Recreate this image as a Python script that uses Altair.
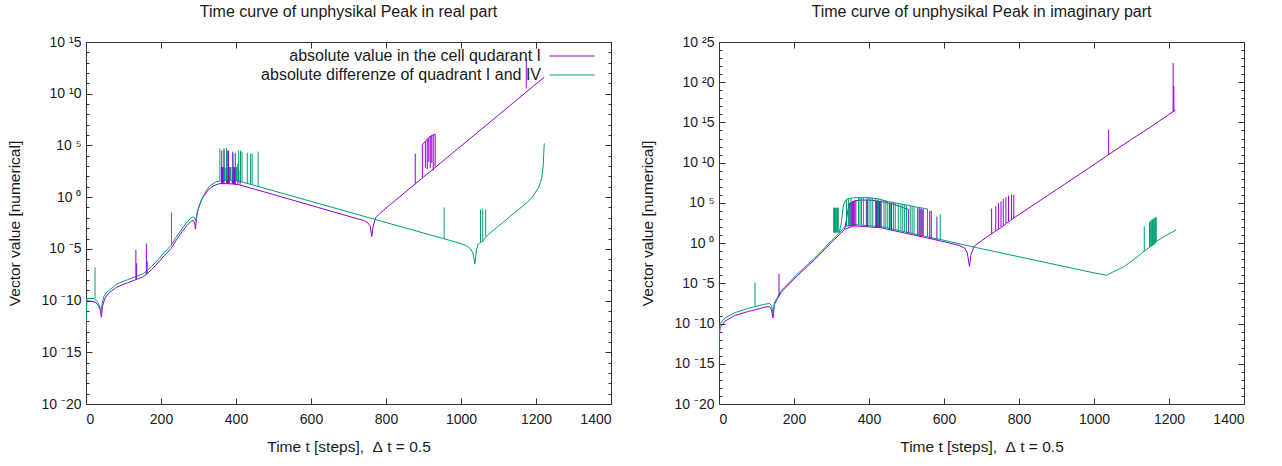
import altair as alt
import pandas as pd

S1 = "absolute value in the cell qudarant I"
S2 = "absolute differenze of quadrant I and IV"
PURPLE = "#9400d3"
GREEN = "#009e73"
FONT = "Liberation Sans"
TXT = "#1a1a1a"
AX = "#333333"

TITLE_L = "Time curve of unphysikal Peak in real part"
TITLE_R = "Time curve of unphysikal Peak in imaginary part"
X_TITLE = "Time t [steps],\u00a0 \u0394\u00a0t = 0.5"
Y_TITLE = "Vector value [numerical]"
X_TICKS = [0, 200, 400, 600, 800, 1000, 1200, 1400]

# ---------------- values are given as exponents: value = 10**e ----------------
# LEFT panel (real part)
LP_main_t = [0, 2, 10, 25, 33, 38, 41, 44, 50, 60, 82, 110, 131, 150, 160, 175, 186, 205, 226, 240,
             257, 270, 279, 286, 290, 292, 294, 297, 303, 310, 320, 328, 340, 355, 381, 408, 500, 600,
             700, 740, 752, 758, 762, 766, 772, 780, 800, 850, 900, 950, 1000, 1050, 1100, 1150, 1200, 1222]
LP_main_e = [-12.6, -10.0, -10.05, -10.15, -10.5, -10.9, -11.6, -10.6, -9.8, -9.3, -8.7, -8.3, -8.0, -7.75,
             -7.5, -7.0, -6.6, -5.8, -5.0, -4.2, -3.3, -2.7, -2.35, -2.25, -2.5, -3.1, -2.2, -1.4, -0.7,
             -0.1, 0.4, 0.77, 1.1, 1.3, 1.3, 1.2, 0.25, -0.8, -1.85, -2.25, -2.5, -2.8, -3.8, -2.8, -2.0,
             -1.7, -1.06, 0.44, 1.94, 3.44, 4.94, 6.44, 7.94, 9.44, 10.94, 11.6]
LP_up_t = [897, 905, 915, 925, 931]
LP_up_e = [5.1, 5.4, 5.8, 6.0, 6.1]
LP_sp_t = [133, 135, 161, 163, 361, 362, 363, 364, 365, 366, 368, 375, 376, 377, 378, 379, 380, 381, 382,
           390, 391, 392, 393, 394, 395, 396, 397, 398, 405, 411, 878, 897, 905, 910, 914, 918, 922, 926,
           931, 1174]
LP_sp_lo = [-7.95, -7.9, -7.5, -7.45, 1.3, 1.3, 1.3, 1.3, 1.3, 1.3, 1.3, 1.3, 1.3, 1.3, 1.3, 1.3, 1.3, 1.3,
            1.3, 1.28, 1.28, 1.28, 1.28, 1.28, 1.28, 1.28, 1.28, 1.28, 1.25, 1.2, 1.28, 1.9, 2.8, 2.7, 3.4,
            2.8, 3.3, 2.6, 2.95, 10.5]
LP_sp_hi = [-5.1, -6.4, -4.5, -6.2, 2.9, 4.5, 2.9, 2.9, 2.8, 2.9, 4.6, 4.4, 2.9, 2.9, 2.9, 2.8, 4.5, 2.9,
            2.9, 2.9, 4.4, 2.9, 2.9, 2.9, 2.9, 2.8, 2.9, 4.3, 3.2, 2.6, 4.2, 5.1, 5.4, 5.6, 5.75, 5.9,
            6.0, 6.0, 6.1, 13.4]

LG_main_t = [0, 2, 22, 30, 36, 40, 43, 48, 55, 65, 82, 110, 131, 150, 160, 175, 186, 205, 226, 240, 257,
             270, 279, 286, 290, 292, 295, 300, 310, 320, 330, 345, 360, 380, 408, 500, 600, 700, 800, 900,
             950, 1000, 1015, 1025, 1032, 1037, 1041, 1045, 1050, 1057, 1070, 1090, 1110, 1133, 1160, 1177,
             1190, 1199, 1208, 1215, 1219, 1222]
LG_main_e = [-12.7, -9.8, -9.8, -10.1, -10.5, -11.1, -10.3, -9.6, -9.2, -8.9, -8.4, -8.0, -7.7, -7.45, -7.2,
             -6.7, -6.3, -5.5, -4.7, -3.9, -3.0, -2.4, -2.05, -1.9, -2.0, -2.3, -1.8, -1.1, -0.1, 0.6, 1.1,
             1.45, 1.6, 1.65, 1.55, 0.61, -0.41, -1.43, -2.45, -3.47, -3.98, -4.49, -4.7, -5.0, -5.4, -6.45,
             -5.2, -4.6, -4.4, -4.3, -3.7, -3.1, -2.5, -1.8, -1.0, -0.5, 0.0, 0.5, 1.0, 1.8, 3.0, 5.2]
LG_sp_t = [24, 228, 357, 368, 369, 370, 371, 375, 377, 384, 385, 386, 392, 400, 401, 402, 407, 412, 416,
           430, 439, 443, 459, 955, 1052, 1058, 1066]
LG_sp_lo = [-9.8, -4.6, 1.6, 1.62, 1.63, 1.63, 1.63, 1.64, 1.64, 1.63, 1.63, 1.63, 1.62, 1.6, 1.6, 1.6,
            1.55, 1.5, 1.47, 1.33, 1.24, 1.2, 1.03, -4.03, -4.35, -4.3, -3.8]
LG_sp_hi = [-6.8, -1.5, 4.7, 4.75, 2.9, 2.9, 2.8, 4.75, 4.5, 2.9, 2.9, 2.9, 4.2, 2.9, 2.9, 2.8, 4.5, 4.5,
            4.4, 4.3, 4.2, 4.2, 4.4, -1.0, -1.2, -1.1, -1.2]

# RIGHT panel (imaginary part)
RP_rise_t = [0, 1, 3, 16, 42, 78, 104, 122, 135, 140, 144, 148, 155, 166, 210, 254, 300, 320, 335]
RP_rise_e = [-14.6, -11.5, -10.5, -9.7, -9.0, -8.5, -8.2, -7.95, -7.9, -8.3, -9.3, -7.6, -7.0, -6.1, -4.0,
             -2.1, 0.1, 1.0, 1.7]
RP_dome_t = [335, 340, 345, 350, 360, 380, 400, 420, 440, 460, 480, 495, 505]
RP_dome_e = [1.7, 3.0, 4.4, 5.0, 5.25, 5.35, 5.35, 5.25, 5.1, 4.9, 4.6, 4.35, 4.2]
RP_low_t = [335, 360, 433, 505, 550, 600, 640, 655, 662, 668, 672, 681, 700, 725, 751, 782, 850, 900, 950,
            1000, 1039, 1100, 1150, 1200, 1217]
RP_low_e = [1.7, 2.15, 1.9, 1.15, 0.7, 0.17, -0.28, -0.6, -1.2, -2.9, -1.4, -0.35, 0.3, 1.1, 1.9, 3.0, 5.1,
            6.65, 8.2, 9.76, 11.0, 12.9, 14.4, 16.0, 16.5]
RP_sp_t = [160, 347, 350, 353, 355, 357, 359, 362, 365, 393, 396, 418, 420, 422, 424, 426, 428, 430, 432,
           455, 460, 505, 530, 534, 538, 542, 562, 566, 581, 727, 738, 745, 752, 758, 765, 772, 780, 786,
           1039, 1211, 1213]
RP_sp_lo = [-6.6, 2.05, 2.1, 2.12, 2.15, 2.15, 2.15, 2.15, 2.14, 2.05, 2.04, 1.95, 1.95, 1.94, 1.94, 1.93,
            1.93, 1.92, 1.91, 1.65, 1.6, 1.15, 0.9, 0.86, 0.82, 0.78, 0.57, 0.53, 0.37, 1.15, 1.5, 1.75,
            2.0, 2.2, 2.45, 2.7, 2.95, 3.1, 11.0, 16.3, 16.35]
RP_sp_hi = [-3.8, 5.0, 5.05, 5.1, 5.15, 5.2, 5.2, 5.22, 5.25, 5.35, 5.35, 5.27, 5.25, 5.24, 5.23, 5.22,
            5.21, 5.2, 5.19, 4.95, 4.9, 4.2, 4.3, 4.3, 4.25, 4.2, 4.0, 4.0, 3.3, 4.3, 4.6, 5.0, 5.2, 5.5,
            5.7, 5.9, 6.0, 6.0, 14.1, 22.4, 19.5]

RG_rise_t = [0, 1, 3, 16, 42, 78, 104, 122, 135, 140, 144, 148, 155, 166, 210, 254, 300, 320]
RG_rise_e = [-14.0, -11.0, -10.0, -9.3, -8.65, -8.1, -7.8, -7.6, -7.5, -7.8, -8.7, -7.4, -6.8, -5.9, -3.8,
             -1.9, 0.3, 1.2]
RG_dome_t = [320, 326, 332, 340, 360, 400, 424, 452, 480, 510, 530, 550, 556]
RG_dome_e = [1.2, 2.5, 4.8, 5.45, 5.65, 5.65, 5.5, 5.15, 4.9, 4.65, 4.45, 4.3, 4.25]
RG_low_t = [320, 335, 360, 433, 505, 550, 600, 671, 700, 800, 900, 1000, 1033, 1050, 1081, 1110, 1134,
            1150, 1166, 1190, 1210, 1219]
RG_low_e = [1.2, 2.05, 2.3, 2.05, 1.3, 0.85, 0.35, -0.4, -0.7, -1.7, -2.7, -3.7, -4.0, -3.6, -2.9, -1.9,
            -1.0, -0.45, 0.2, 0.9, 1.4, 1.65]
RG_sp_t = [96, 306, 307, 308, 309, 310, 312, 314, 316, 318, 340, 345, 352, 372, 376, 380, 385, 395, 400,
           405, 410, 418, 425, 432, 440, 445, 450, 458, 465, 470, 478, 485, 490, 495, 500, 510, 515, 520,
           530, 535, 540, 545, 556, 590, 1134, 1148, 1150, 1152, 1154, 1156, 1158, 1160, 1162, 1164, 1166]
RG_sp_lo = [-7.85, 1.3, 1.3, 1.3, 1.3, 1.3, 1.3, 1.3, 1.3, 1.3, 2.1, 2.15, 2.2, 2.3, 2.3, 2.28, 2.26, 2.2,
            2.19, 2.17, 2.15, 2.12, 2.1, 2.05, 1.97, 1.92, 1.87, 1.8, 1.72, 1.67, 1.58, 1.5, 1.45, 1.4,
            1.35, 1.25, 1.2, 1.15, 1.05, 1.0, 0.95, 0.9, 0.8, 0.45, -1.0, -0.55, -0.45, -0.4, -0.35, -0.3,
            -0.25, -0.2, -0.1, 0.0, 0.2]
RG_sp_hi = [-4.9, 4.4, 4.3, 4.4, 4.4, 4.4, 4.3, 4.4, 4.4, 4.4, 5.45, 5.5, 5.6, 5.65, 5.65, 5.65, 5.65,
            5.65, 5.65, 5.63, 5.6, 5.55, 5.5, 5.45, 5.35, 5.3, 5.2, 5.1, 5.05, 5.0, 4.95, 4.85, 4.8, 4.75,
            4.7, 4.65, 4.6, 4.55, 4.45, 4.4, 4.35, 4.3, 4.25, 3.6, 2.07, 2.6, 2.7, 2.8, 2.9, 2.95, 3.0, 3.1,
            3.15, 3.2, 3.2]


def line_rows(series, seg, ts, es):
    return [{"series": series, "seg": series + "|" + seg, "i": k, "t": t, "v": 10.0 ** e}
            for k, (t, e) in enumerate(zip(ts, es))]


def rule_rows(series, ts, los, his):
    return [{"series": series, "t": t, "lo": 10.0 ** lo, "hi": 10.0 ** hi}
            for t, lo, hi in zip(ts, los, his)]


left_lines = pd.DataFrame(line_rows(S1, "main", LP_main_t, LP_main_e) + line_rows(S1, "up", LP_up_t, LP_up_e)
                          + line_rows(S2, "main", LG_main_t, LG_main_e))
left_rules = pd.DataFrame(rule_rows(S1, LP_sp_t, LP_sp_lo, LP_sp_hi) + rule_rows(S2, LG_sp_t, LG_sp_lo, LG_sp_hi))
right_lines = pd.DataFrame(line_rows(S1, "rise", RP_rise_t, RP_rise_e) + line_rows(S1, "dome", RP_dome_t, RP_dome_e)
                           + line_rows(S1, "low", RP_low_t, RP_low_e)
                           + line_rows(S2, "rise", RG_rise_t, RG_rise_e) + line_rows(S2, "dome", RG_dome_t, RG_dome_e)
                           + line_rows(S2, "low", RG_low_t, RG_low_e))
right_rules = pd.DataFrame(rule_rows(S1, RP_sp_t, RP_sp_lo, RP_sp_hi) + rule_rows(S2, RG_sp_t, RG_sp_lo, RG_sp_hi))

SUP = str.maketrans("-0123456789", "\u207b\u2070\u00b9\u00b2\u00b3\u2074\u2075\u2076\u2077\u2078\u2079")


def tick_text(e):
    s = str(e)
    # as drawn in the picture: only the first character after "10" is raised
    return "10 " + s[0].translate(SUP) + s[1:]


def label_expr(exps):
    expr = "''"
    for e in exps:
        expr = "round(log(datum.value)/LN10) == %d ? '%s' : (%s)" % (e, tick_text(e), expr)
    return expr


color_scale = alt.Scale(domain=[S1, S2], range=[PURPLE, GREEN])
common = dict(domain=False, grid=False, tickColor=AX, tickWidth=1, labelFont=FONT, labelFontSize=14,
              labelColor=TXT, titleFont=FONT, titleFontSize=15.5, titleFontWeight="normal", titleColor=TXT)


def panel(lines_df, rules_df, title, emin, emax, w, h, toff):
    xs = alt.Scale(domain=[0, 1400], nice=False, zero=False)
    ys = alt.Scale(type="log", domain=[10.0 ** emin, 10.0 ** emax], nice=False)
    major_e = list(range(emin, emax + 1, 5))
    major = [10.0 ** e for e in major_e]
    minor = [10.0 ** e for e in range(emin, emax + 1)]
    # key: label right-aligned, line sample to its right (as in the picture)
    leg = alt.Legend(title=None, orient="none", legendX=162, legendY=6, labelAlign="right",
                     labelOffset={"expr": "-39"}, symbolOffset=316, symbolType="M-4.5,0H4.5", symbolSize=100,
                     symbolStrokeWidth=1.2, labelFont=FONT, labelFontSize=16, labelColor=TXT,
                     labelLimit=400, rowPadding=3, padding=0)
    x_bottom = alt.Axis(orient="bottom", values=X_TICKS, format="d", tickSize=6, offset=-6, labelPadding=8,
                        title=X_TITLE, titlePadding=13, **common)
    x_top = alt.Axis(orient="top", values=X_TICKS, tickSize=6, offset=-6, labels=False, title=None, **common)
    y_left = alt.Axis(orient="left", values=major, tickSize=6, offset=-6, labelExpr=label_expr(major_e),
                      labelPadding=5, title=Y_TITLE, titlePadding=18, **common)
    y_right = alt.Axis(orient="right", values=major, tickSize=6, offset=-6, labels=False, title=None, **common)
    y_left_minor = alt.Axis(orient="left", values=minor, tickSize=3, offset=-3, labels=False, title=None, **common)
    y_right_minor = alt.Axis(orient="right", values=minor, tickSize=3, offset=-3, labels=False, title=None, **common)

    lines = alt.Chart(lines_df).mark_line(strokeWidth=1, clip=True).encode(
        x=alt.X("t:Q", scale=xs, axis=x_bottom),
        y=alt.Y("v:Q", scale=ys, axis=y_left),
        color=alt.Color("series:N", scale=color_scale, legend=leg),
        detail="seg:N",
        order=alt.Order("i:Q"),
    )
    rules = alt.Chart(rules_df).mark_rule(strokeWidth=1, clip=True).encode(
        x=alt.X("t:Q", scale=xs, axis=x_top),
        y=alt.Y("hi:Q", scale=ys, axis=y_right),
        y2="lo:Q",
        color=alt.Color("series:N", scale=color_scale, legend=leg),
    )
    minor_l = alt.Chart(lines_df).mark_line(strokeOpacity=0).encode(
        x=alt.X("t:Q", scale=xs, axis=None),
        y=alt.Y("v:Q", scale=ys, axis=y_left_minor),
        detail="seg:N",
    )
    minor_r = alt.Chart(rules_df).mark_rule(strokeOpacity=0).encode(
        x=alt.X("t:Q", scale=xs, axis=None),
        y=alt.Y("hi:Q", scale=ys, axis=y_right_minor),
    )
    return alt.layer(lines, rules, minor_l, minor_r).resolve_axis(x="independent", y="independent").properties(
        width=w, height=h,
        title=alt.TitleParams(title, font=FONT, fontSize=16, fontWeight="normal", color=TXT, offset=toff,
                              anchor="middle"),
    )


left = panel(left_lines, left_rules, TITLE_L, -20, 15, 525, 362, 15)
right = panel(right_lines, right_rules, TITLE_R, -20, 25, 525, 362, 15)

chart = alt.hconcat(left, right, spacing=28).properties(
    padding={"left": 7, "top": 3, "right": 5, "bottom": 2},
    background="white",
).configure_view(stroke=AX, strokeWidth=1)

chart.save("out.html", embed_options={"renderer": "svg", "actions": False})
